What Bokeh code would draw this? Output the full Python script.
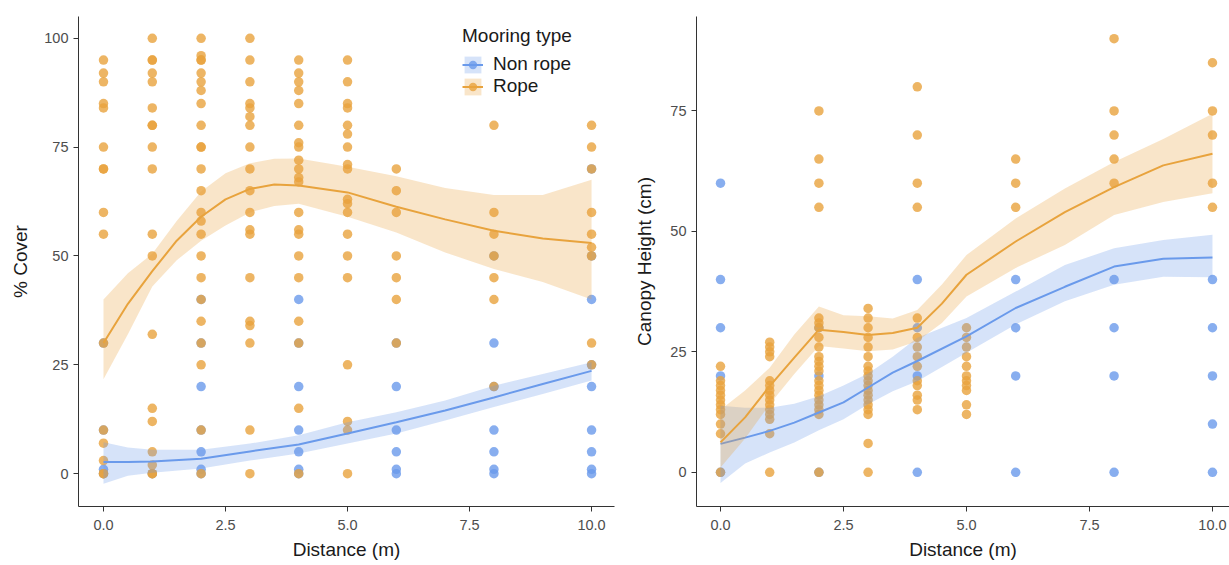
from bokeh.plotting import figure
from bokeh.layouts import row
from bokeh.models import Range1d, FixedTicker, PrintfTickFormatter, Legend, LegendItem
from bokeh.embed import file_html
from bokeh.resources import INLINE

# ---------------- data ----------------
# % Cover, points grouped by distance (m)
cover_rope = {
    0: [95, 92, 90, 85, 84, 75, 70, 70, 60, 55, 30, 10, 7, 3, 0, 0],
    1: [100, 95, 95, 92, 90, 84, 80, 80, 75, 70, 55, 50, 32, 15, 12, 5, 2, 0, 0],
    2: [100, 96, 95, 95, 92, 90, 88, 85, 80, 75, 75, 70, 65, 60, 58, 55, 50, 45, 40, 35, 30, 25, 10, 0],
    3: [100, 95, 90, 85, 84, 82, 80, 75, 70, 65, 60, 56, 55, 45, 35, 34, 30, 10, 0],
    4: [95, 92, 90, 88, 85, 80, 76, 75, 72, 70, 68, 67, 60, 56, 55, 50, 45, 35, 30, 15, 0],
    5: [95, 90, 85, 84, 80, 78, 75, 71, 70, 63, 62, 60, 55, 50, 45, 25, 12, 10, 0],
    6: [70, 65, 60, 50, 45, 40, 30],
    8: [80, 60, 55, 50, 45, 40, 20],
    10: [80, 75, 70, 60, 55, 52, 50, 30, 25],
}
cover_nonrope = {
    0: [30, 10, 1, 0],
    1: [0],
    2: [40, 30, 20, 10, 5, 1, 0],
    4: [40, 30, 20, 10, 5, 1, 0],
    6: [30, 20, 10, 5, 1, 0],
    8: [50, 30, 20, 10, 5, 1, 0],
    10: [70, 50, 40, 25, 20, 10, 5, 1, 0],
}
# Canopy height (cm), points grouped by distance (m)
height_rope = {
    0: [22, 19, 18, 17, 16, 15, 14, 13, 12, 10, 8, 0],
    1: [27, 26, 25, 24, 19, 18, 17, 16, 15, 14, 13, 12, 11, 8, 0],
    2: [75, 65, 60, 55, 32, 31, 30, 28, 26, 24, 23, 22, 21, 19, 18, 17, 16, 15, 14, 13, 12, 0],
    3: [34, 32, 30, 28, 26, 24, 22, 21, 20, 19, 18, 17, 16, 15, 14, 13, 12, 6, 0],
    4: [80, 70, 60, 55, 32, 28, 26, 24, 22, 19, 18, 16, 15, 13],
    5: [30, 28, 26, 24, 22, 20, 19, 18, 17, 14, 12],
    6: [65, 60, 55],
    8: [90, 75, 70, 65, 60],
    10: [85, 75, 70, 60, 55],
}
height_nonrope = {
    0: [60, 40, 30, 20, 0],
    2: [30, 20, 0],
    4: [40, 30, 20, 0],
    6: [40, 30, 20, 0],
    8: [40, 30, 20, 0],
    10: [40, 30, 20, 10, 0],
}

# smooth fits (loess) with confidence band
cover_rope_x = [0, 0.5, 1, 1.5, 2, 2.5, 3, 3.5, 4, 5, 6, 7, 8, 9, 10]
cover_rope_fit = [30, 39, 46.5, 53.5, 59, 63, 65.4, 66.4, 66.2, 64.6, 61.3, 58.4, 55.8, 54, 53]
cover_rope_hi = [40, 46, 50.5, 58, 64.8, 69, 71.3, 72.3, 72.4, 70.5, 68.3, 65.6, 64, 64, 67.5]
cover_rope_lo = [21.7, 32, 43, 49, 53.5, 57, 60, 61.5, 62, 59, 55.4, 50.8, 47, 44, 40]

cover_nonrope_x = [0, 0.5, 1, 2, 3, 4, 5, 6, 7, 8, 9, 10]
cover_nonrope_fit = [2.7, 2.7, 2.8, 3.4, 5.1, 6.7, 9.2, 11.8, 14.5, 17.5, 20.6, 23.6]
cover_nonrope_hi = [7.2, 6.0, 5.5, 5.5, 6.9, 8.8, 11.8, 14.1, 16.8, 20.2, 22.9, 25.6]
cover_nonrope_lo = [-2.3, -0.5, 0.2, 1.2, 3.0, 4.6, 6.9, 9.2, 12.2, 15.3, 18.3, 21.4]

height_rope_x = [0, 0.5, 1, 1.5, 2, 2.5, 3, 3.5, 4, 4.5, 5, 6, 7, 8, 9, 10]
height_rope_fit = [6.2, 11.4, 17.9, 23.8, 29.6, 29.1, 28.5, 28.9, 30, 35, 41, 47.9, 54, 59.2, 63.7, 66.1]
height_rope_hi = [13, 17, 21.7, 28.6, 34.4, 32.6, 32.4, 31.9, 33.7, 39, 45.1, 52.7, 58.9, 64.4, 69.2, 74.4]
height_rope_lo = [1, 7, 14.1, 20.4, 26.2, 25.7, 25.1, 25.5, 27.2, 31, 36.5, 42.4, 47.2, 53.4, 56.1, 57.9]

height_nonrope_x = [0, 0.5, 1, 1.5, 2, 2.5, 3, 3.5, 4, 5, 6, 7, 8, 9, 10]
height_nonrope_fit = [5.9, 7.2, 8.6, 10.3, 12.4, 14.5, 17.6, 20.7, 23.1, 28.2, 34.1, 38.5, 42.7, 44.3, 44.6]
height_nonrope_hi = [13.8, 13.4, 13.4, 14.2, 15.8, 18, 20.5, 24, 27.9, 32, 37.5, 43, 46.5, 48.2, 49.3]
height_nonrope_lo = [-2.2, 1.8, 4.1, 6.2, 8.7, 11, 14.1, 16.8, 18.9, 24.8, 30.7, 35.5, 38.9, 40.6, 40.5]

x_ticks = [0, 2.5, 5, 7.5, 10]
cover_ticks = [0, 25, 50, 75, 100]
height_ticks = [0, 25, 50, 75]
group_labels = ["Non rope", "Rope"]

# ---------------- style ----------------
BLUE = "#6A9AEB"
ORANGE = "#E8A33D"
FONT = "Liberation Sans"


def flat(d):
    xs, ys = [], []
    for k, vals in d.items():
        xs += [k] * len(vals)
        ys += vals
    return xs, ys


def style_axes(p, ylabel, y_ticks, ylab_standoff):
    p.grid.visible = False
    p.outline_line_color = None
    p.background_fill_color = "white"
    p.border_fill_color = "white"
    for ax in (p.xaxis[0], p.yaxis[0]):
        ax.axis_line_color = "#333333"
        ax.axis_line_width = 1
        ax.major_tick_line_color = "#333333"
        ax.major_tick_out = 5
        ax.major_tick_in = 0
        ax.minor_tick_line_color = None
        ax.major_label_text_font = FONT
        ax.major_label_text_font_size = "14.5px"
        ax.major_label_text_color = "#4D4D4D"
        ax.axis_label_text_font = FONT
        ax.axis_label_text_font_size = "19px"
        ax.axis_label_text_font_style = "normal"
        ax.axis_label_text_color = "#1A1A1A"
        ax.major_label_standoff = 5
    p.xaxis[0].major_label_standoff = 8
    p.xaxis[0].ticker = FixedTicker(ticks=x_ticks)
    p.xaxis[0].formatter = PrintfTickFormatter(format="%.1f")
    p.xaxis[0].axis_label = "Distance (m)"
    p.xaxis[0].axis_label_standoff = 6
    p.yaxis[0].ticker = FixedTicker(ticks=y_ticks)
    p.yaxis[0].axis_label = ylabel
    p.yaxis[0].axis_label_standoff = ylab_standoff


def draw(p, rope, nonrope, rx, rfit, rlo, rhi, nx, nfit, nlo, nhi):
    bx, by = flat(nonrope)
    ox, oy = flat(rope)
    bp = p.scatter(bx, by, size=9.5, fill_color=BLUE, line_color=None, fill_alpha=0.8)
    op = p.scatter(ox, oy, size=9.5, fill_color=ORANGE, line_color=None, fill_alpha=0.8)
    ba = p.varea(x=nx, y1=nlo, y2=nhi, fill_color=BLUE, fill_alpha=0.28)
    bl = p.line(nx, nfit, line_color=BLUE, line_width=2)
    oa = p.varea(x=rx, y1=rlo, y2=rhi, fill_color=ORANGE, fill_alpha=0.28)
    ol = p.line(rx, rfit, line_color=ORANGE, line_width=2)
    return (ba, bl, bp), (oa, ol, op)


H = 565

# left panel: % Cover
p1 = figure(width=620, height=H, output_backend="svg", toolbar_location=None,
            x_range=Range1d(-0.512, 10.47), y_range=Range1d(-7.55, 105.0),
            min_border_left=78, min_border_right=6, min_border_top=16, min_border_bottom=57)
style_axes(p1, "% Cover", cover_ticks, 10)
blue_r, orange_r = draw(p1, cover_rope, cover_nonrope,
                        cover_rope_x, cover_rope_fit, cover_rope_lo, cover_rope_hi,
                        cover_nonrope_x, cover_nonrope_fit, cover_nonrope_lo, cover_nonrope_hi)

legend = Legend(items=[LegendItem(label=group_labels[0], renderers=list(blue_r)),
                       LegendItem(label=group_labels[1], renderers=list(orange_r))],
                location=(384, 409), title="Mooring type",
                padding=0, margin=0, spacing=0, glyph_width=21, glyph_height=21,
                label_height=21, label_standoff=10, border_line_color=None,
                background_fill_alpha=0, title_standoff=6,
                label_text_font=FONT, label_text_font_size="19px", label_text_color="#1A1A1A",
                title_text_font=FONT, title_text_font_size="19px",
                title_text_font_style="normal", title_text_color="#1A1A1A")
p1.add_layout(legend)

# right panel: Canopy Height
p2 = figure(width=609, height=H, output_backend="svg", toolbar_location=None,
            x_range=Range1d(-0.488, 10.346), y_range=Range1d(-7.1, 94.6),
            min_border_left=76, min_border_right=0, min_border_top=14, min_border_bottom=59)
style_axes(p2, "Canopy Height (cm)", height_ticks, 12)
draw(p2, height_rope, height_nonrope,
     height_rope_x, height_rope_fit, height_rope_lo, height_rope_hi,
     height_nonrope_x, height_nonrope_fit, height_nonrope_lo, height_nonrope_hi)

layout = row(p1, p2, spacing=0)
open("out.html", "w").write(file_html(layout, INLINE))
